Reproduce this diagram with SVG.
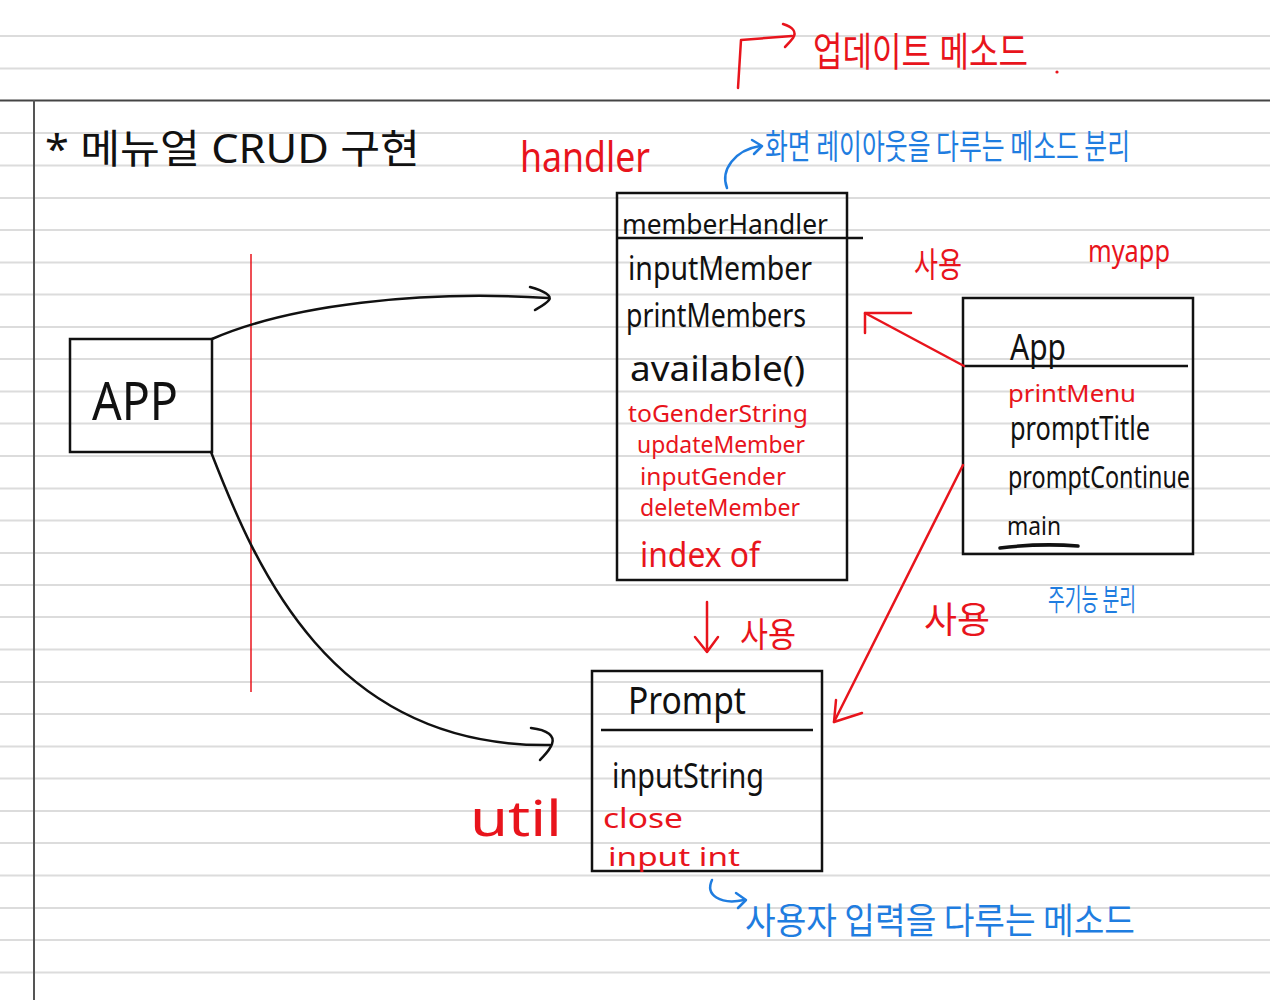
<svg xmlns="http://www.w3.org/2000/svg" width="1270" height="1000" viewBox="0 0 1270 1000">
<defs>
<style>
.rule{stroke:#dcdcdc;stroke-width:2}
.box{fill:none;stroke:#111;stroke-width:2.5}
.k{fill:#111;font-family:"Noto Sans","Noto Sans CJK KR",sans-serif}
.r{fill:#e8141c;font-family:"Noto Sans","Noto Sans CJK KR",sans-serif}
.b{fill:#1f7de0;font-family:"Noto Sans CJK KR","Noto Sans",sans-serif}
.kc{fill:none;stroke:#111;stroke-width:2.5;stroke-linecap:round;stroke-linejoin:round}
.rc{fill:none;stroke:#e8141c;stroke-width:2.5;stroke-linecap:round;stroke-linejoin:round}
.bc{fill:none;stroke:#1f7de0;stroke-width:2.5;stroke-linecap:round;stroke-linejoin:round}
</style>
</defs>
<rect width="1270" height="1000" fill="#ffffff"/>
<g id="paper">
<line class="rule" x1="0" y1="36" x2="1270" y2="36"/>
<line class="rule" x1="0" y1="68.5" x2="1270" y2="68.5"/>
<line x1="0" y1="100.5" x2="1270" y2="100.5" stroke="#444" stroke-width="2"/>
<line class="rule" x1="0" y1="133" x2="1270" y2="133"/>
<line class="rule" x1="0" y1="165.5" x2="1270" y2="165.5"/>
<line class="rule" x1="0" y1="198" x2="1270" y2="198"/>
<line class="rule" x1="0" y1="230" x2="1270" y2="230"/>
<line class="rule" x1="0" y1="262.5" x2="1270" y2="262.5"/>
<line class="rule" x1="0" y1="294.5" x2="1270" y2="294.5"/>
<line class="rule" x1="0" y1="327" x2="1270" y2="327"/>
<line class="rule" x1="0" y1="359" x2="1270" y2="359"/>
<line class="rule" x1="0" y1="391.5" x2="1270" y2="391.5"/>
<line class="rule" x1="0" y1="423.5" x2="1270" y2="423.5"/>
<line class="rule" x1="0" y1="456" x2="1270" y2="456"/>
<line class="rule" x1="0" y1="488.5" x2="1270" y2="488.5"/>
<line class="rule" x1="0" y1="520.5" x2="1270" y2="520.5"/>
<line class="rule" x1="0" y1="553" x2="1270" y2="553"/>
<line class="rule" x1="0" y1="585" x2="1270" y2="585"/>
<line class="rule" x1="0" y1="617" x2="1270" y2="617"/>
<line class="rule" x1="0" y1="649.5" x2="1270" y2="649.5"/>
<line class="rule" x1="0" y1="682" x2="1270" y2="682"/>
<line class="rule" x1="0" y1="714" x2="1270" y2="714"/>
<line class="rule" x1="0" y1="746.5" x2="1270" y2="746.5"/>
<line class="rule" x1="0" y1="778.5" x2="1270" y2="778.5"/>
<line class="rule" x1="0" y1="811" x2="1270" y2="811"/>
<line class="rule" x1="0" y1="843" x2="1270" y2="843"/>
<line class="rule" x1="0" y1="875.5" x2="1270" y2="875.5"/>
<line class="rule" x1="0" y1="908" x2="1270" y2="908"/>
<line class="rule" x1="0" y1="940" x2="1270" y2="940"/>
<line class="rule" x1="0" y1="972.5" x2="1270" y2="972.5"/>
<line x1="34" y1="100" x2="34" y2="1000" stroke="#555" stroke-width="2"/>
<line x1="251" y1="254" x2="251" y2="692" stroke="#e8141c" stroke-width="1.5"/>
<circle cx="1057" cy="72" r="1.6" fill="#e8141c"/>
</g>
<g id="title">
<text class="k" x="45" y="163" font-size="40" textLength="375" lengthAdjust="spacingAndGlyphs">* 메뉴얼  CRUD 구현</text>
</g>
<g id="update-note">
<text class="r" x="813" y="66" font-size="40" textLength="215" lengthAdjust="spacingAndGlyphs">업데이트 메소드</text>
</g>
<g id="handler-label"><text class="r" x="520" y="172" font-size="42" textLength="130" lengthAdjust="spacingAndGlyphs">handler</text></g>
<g id="screen-note"><text class="b" x="765" y="159" font-size="34" textLength="365" lengthAdjust="spacingAndGlyphs">화면 레이아웃을 다루는 메소드 분리</text></g>
<g id="node-app-left">
<rect class="box" x="70" y="339" width="142" height="113"/>
<text class="k" x="92" y="420" font-size="52" textLength="86" lengthAdjust="spacingAndGlyphs">APP</text>
</g>
<g id="node-memberhandler">
<rect class="box" x="617" y="193" width="230" height="387"/>
<line x1="617" y1="238" x2="863" y2="238" stroke="#111" stroke-width="2.5"/>
<text class="k" x="622" y="234" font-size="28" textLength="206" lengthAdjust="spacingAndGlyphs">memberHandler</text>
<text class="k" x="628" y="280" font-size="32" textLength="184" lengthAdjust="spacingAndGlyphs">inputMember</text>
<text class="k" x="626" y="327" font-size="32" textLength="180" lengthAdjust="spacingAndGlyphs">printMembers</text>
<text class="k" x="630" y="381" font-size="34" textLength="175" lengthAdjust="spacingAndGlyphs">available()</text>
<text class="r" x="628" y="422" font-size="23" textLength="180" lengthAdjust="spacingAndGlyphs">toGenderString</text>
<text class="r" x="637" y="453" font-size="23" textLength="168" lengthAdjust="spacingAndGlyphs">updateMember</text>
<text class="r" x="640" y="485" font-size="23" textLength="146" lengthAdjust="spacingAndGlyphs">inputGender</text>
<text class="r" x="640" y="516" font-size="23" textLength="160" lengthAdjust="spacingAndGlyphs">deleteMember</text>
<text class="r" x="640" y="567" font-size="34" textLength="120" lengthAdjust="spacingAndGlyphs">index of</text>
</g>
<g id="node-app-right">
<rect class="box" x="963" y="298" width="230" height="256"/>
<line x1="963" y1="366" x2="1188" y2="366" stroke="#111" stroke-width="2.5"/>
<text class="k" x="1010" y="360" font-size="36" textLength="56" lengthAdjust="spacingAndGlyphs">App</text>
<text class="r" x="1008" y="402" font-size="24" textLength="128" lengthAdjust="spacingAndGlyphs">printMenu</text>
<text class="k" x="1010" y="440" font-size="32" textLength="140" lengthAdjust="spacingAndGlyphs">promptTitle</text>
<text class="k" x="1008" y="488" font-size="30" textLength="182" lengthAdjust="spacingAndGlyphs">promptContinue</text>
<text class="k" x="1007" y="535" font-size="26" textLength="54" lengthAdjust="spacingAndGlyphs">main</text>
<path d="M1000,548 Q1040,543 1078,546" fill="none" stroke="#111" stroke-width="3.5" stroke-linecap="round"/>
</g>
<g id="myapp-label"><text class="r" x="1088" y="262" font-size="30" textLength="82" lengthAdjust="spacingAndGlyphs">myapp</text></g>
<g id="func-note"><text class="b" x="1048" y="610" font-size="30" textLength="88" lengthAdjust="spacingAndGlyphs">주기능 분리</text></g>
<g id="node-prompt">
<rect class="box" x="592" y="671" width="230" height="200"/>
<line x1="601" y1="730" x2="813" y2="730" stroke="#111" stroke-width="2.5"/>
<text class="k" x="628" y="714" font-size="38" textLength="118" lengthAdjust="spacingAndGlyphs">Prompt</text>
<text class="k" x="612" y="788" font-size="34" textLength="152" lengthAdjust="spacingAndGlyphs">inputString</text>
<text class="r" x="603" y="828" font-size="28" textLength="80" lengthAdjust="spacingAndGlyphs">close</text>
<text class="r" x="608" y="866" font-size="25" textLength="132" lengthAdjust="spacingAndGlyphs">input int</text>
</g>
<g id="util-label"><text class="r" x="470" y="836" font-size="50" textLength="92" lengthAdjust="spacingAndGlyphs">util</text></g>
<g id="input-note"><text class="b" x="745" y="934" font-size="36" textLength="390" lengthAdjust="spacingAndGlyphs">사용자 입력을 다루는 메소드</text></g>
<g id="use-labels">
<text class="r" x="914" y="277" font-size="34" textLength="48" lengthAdjust="spacingAndGlyphs">사용</text>
<text class="r" x="740" y="647" font-size="34" textLength="56" lengthAdjust="spacingAndGlyphs">사용</text>
<text class="r" x="924" y="633" font-size="36" textLength="66" lengthAdjust="spacingAndGlyphs">사용</text>
</g>
<g id="connectors">
<path class="kc" d="M212,339 C290,305 420,290 548,298"/>
<path class="kc" d="M530,287 C545,291 552,296 549,300 C546,304 540,307 535,310"/>
<path class="kc" d="M211,452 C255,565 330,748 550,745"/>
<path class="kc" d="M531,728 C548,730 555,736 552,744 C549,752 543,756 540,760"/>
<path class="rc" d="M964,366 L865,313"/>
<path class="rc" d="M865,313 L911,313 M865,313 L865,333"/>
<path class="rc" d="M963,465 L834,722"/>
<path class="rc" d="M834,722 L862,713 M834,722 L836,700"/>
<path class="rc" d="M707,602 L707,652 M695,637 L707,652 L718,637"/>
<path class="rc" d="M738,88 L741,40 L792,36"/>
<path class="rc" d="M783,24 C793,27 797,32 793,38 C790,42 787,45 785,47"/>
<path class="bc" d="M727,188 C720,170 735,150 760,146"/>
<path class="bc" d="M752,140 L762,146 L754,154"/>
<path class="bc" d="M712,880 C705,895 720,905 744,900"/>
<path class="bc" d="M736,893 L746,900 L738,908"/>
</g>
</svg>
